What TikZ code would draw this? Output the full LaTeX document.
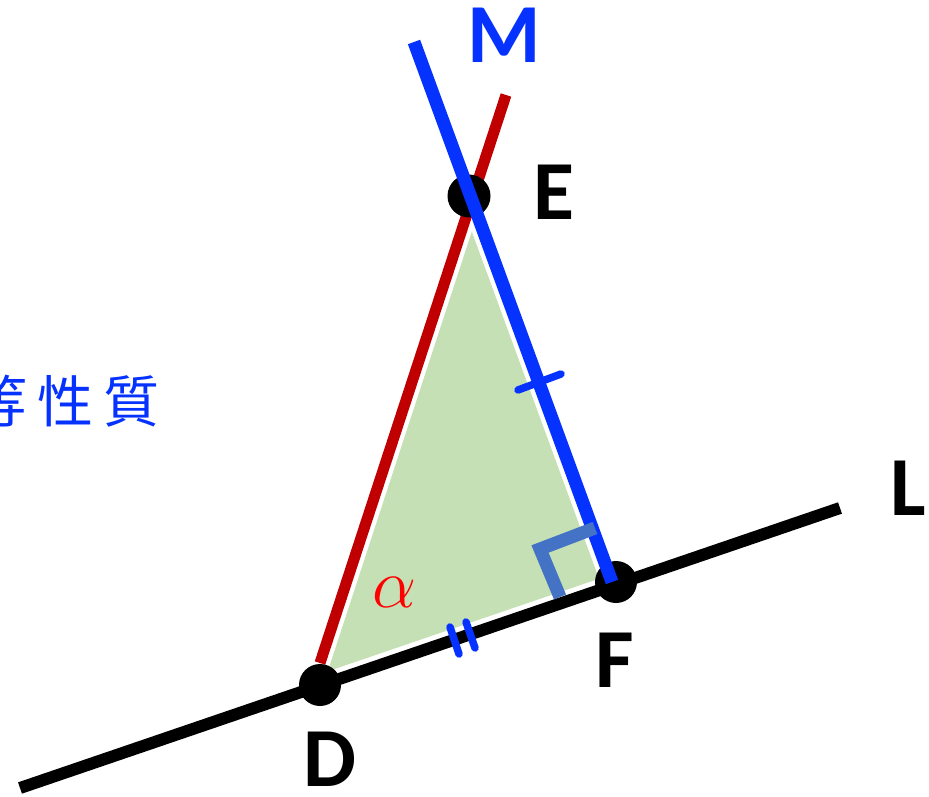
\RequirePackage{fix-cm}
\documentclass[tikz,border=0pt]{standalone}
\usepackage{fontspec}
\newfontfamily\labfont{Carlito}[BoldFont={Carlito Bold}]
\newfontfamily\cjkfont{Noto Sans CJK TC}
\definecolor{redline}{RGB}{192,0,0}
\definecolor{blueline}{RGB}{5,50,255}
\definecolor{greenfill}{RGB}{197,224,180}
\definecolor{markblue}{RGB}{68,114,196}
\definecolor{alphared}{RGB}{255,0,0}
\tikzset{
  lab/.style={inner sep=0pt, font=\labfont\bfseries\fontsize{84}{84}\selectfont},
  dotnode/.style={circle, fill=black, inner sep=0pt, minimum size=42pt},
  tickmark/.style={blueline, line width=7.5pt, line cap=round},
}
\begin{document}
\begin{tikzpicture}[x=1pt,y=-1pt]
\useasboundingbox (0,0) rectangle (929,797);
\clip (0,0) rectangle (929,797);
% inset green triangle
\fill[greenfill] (471.8,231.6) -- (327.8,671.3) -- (599.0,578.7) -- cycle;
% coordinates
\coordinate (Ls) at (20,788);
\coordinate (Le) at (840,508);
\coordinate (Rs) at (506,95);
\coordinate (Re) at (320,663);
\coordinate (Ms) at (414,42);
\coordinate (Me) at (612,582);
% line L
\draw[black, line width=12pt] (Ls) -- (Le);
% red line
\draw[redline, line width=11pt] (Rs) -- (Re);
% dots
\node[dotnode] (D) at (320,685) {};
\node[dotnode] (F) at (616,582) {};
\node[dotnode, minimum size=43pt] (E) at (469,196) {};
% blue line M
\draw[blueline, line width=13pt] (Ms) -- (Me);
% right angle mark
\coordinate (ra1) at (595,528);
\coordinate (ra2) at (540,549);
\coordinate (ra3) at (560,597);
\draw[markblue, line width=13pt, line join=miter] (ra1) -- (ra2) -- (ra3);
% tick on EF
\coordinate (t1a) at (518,390);
\coordinate (t1b) at (561,374);
\draw[tickmark] (t1a) -- (t1b);
% double tick on DF
\coordinate (t2a) at (450,627);
\coordinate (t2b) at (459,654);
\coordinate (t3a) at (466,622);
\coordinate (t3b) at (475,648);
\draw[tickmark] (t2a) -- (t2b);
\draw[tickmark] (t3a) -- (t3b);
% labels
\node[lab, text=blueline] (labM) at (504,35) {M};
\node[lab] (labE) at (554,192) {E};
\node[lab] (labL) at (908,488) {L};
\node[lab] (labF) at (615,660) {F};
\node[lab] (labD) at (330,759) {D};
\node[inner sep=0pt, text=alphared, font=\fontsize{70}{70}\selectfont] (alpha) at (395,592) {$\alpha$};
\node[inner sep=0pt, text=blueline, font=\cjkfont\fontsize{56}{56}\selectfont] (txt) at (66,401) {等\hspace{10pt}性\hspace{10pt}質};
\end{tikzpicture}
\end{document}
